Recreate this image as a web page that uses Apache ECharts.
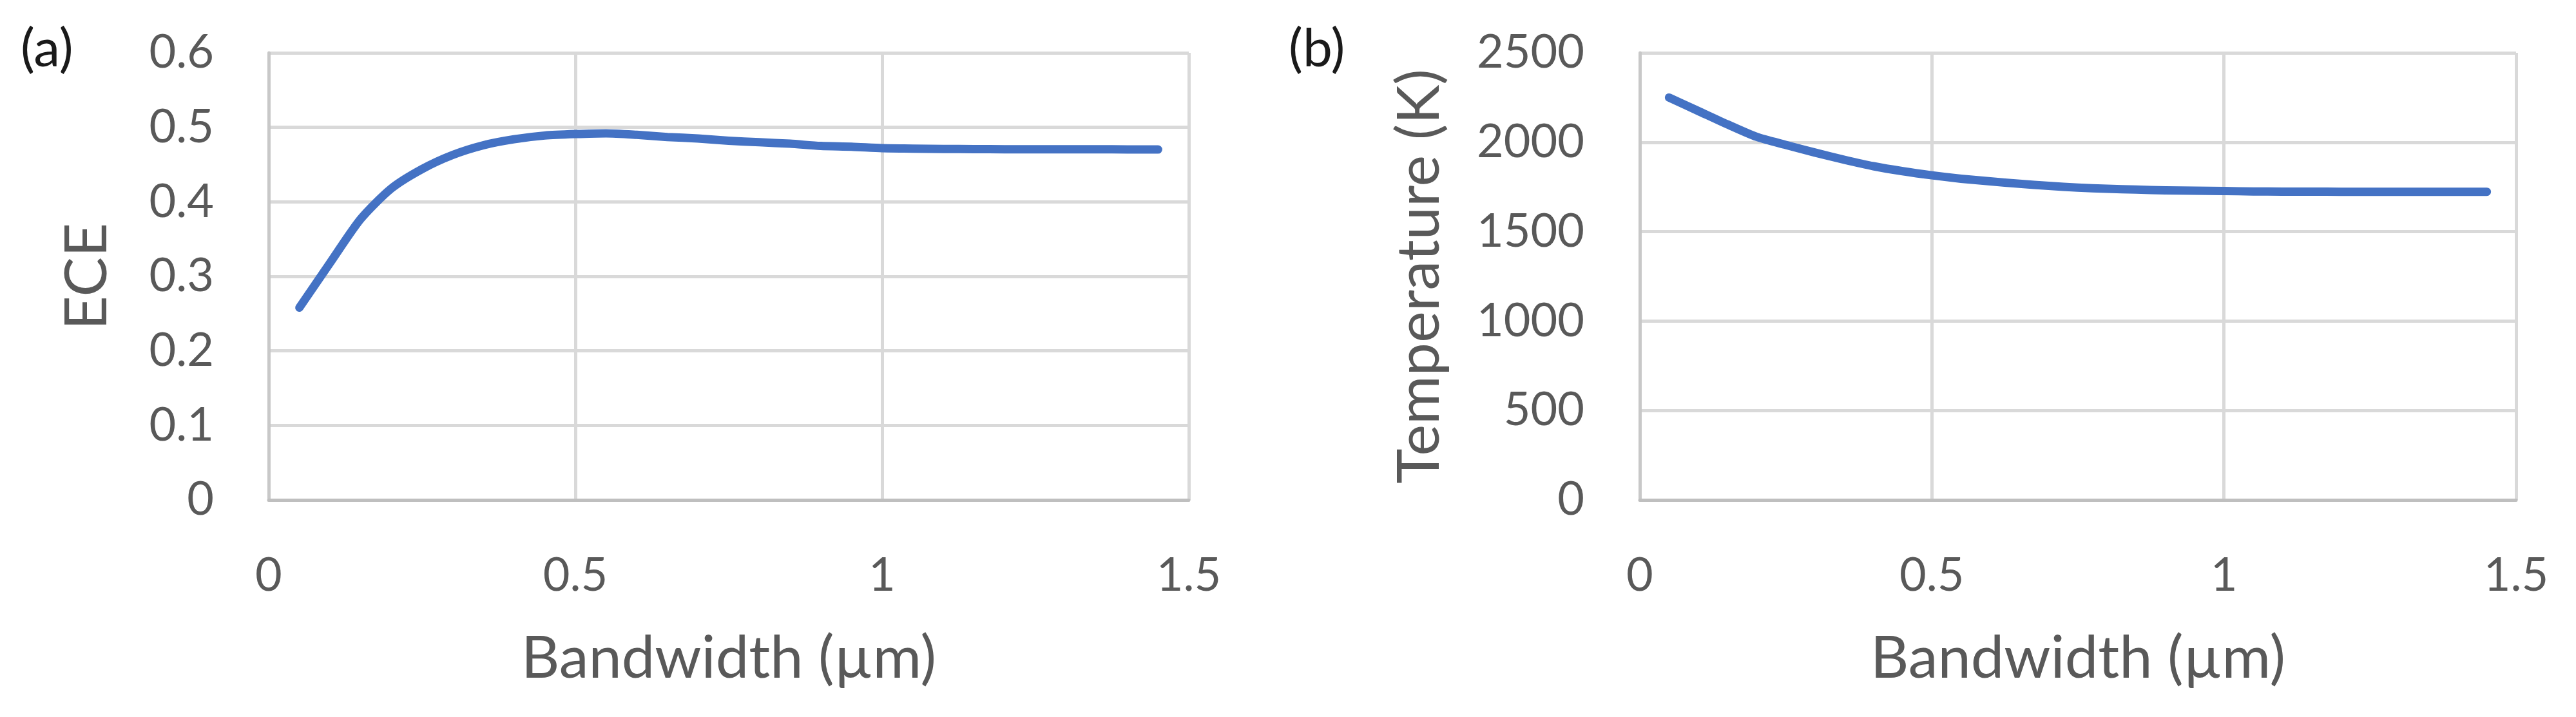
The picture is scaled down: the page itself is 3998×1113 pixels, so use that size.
<!DOCTYPE html>
<html>
<head>
<meta charset="utf-8">
<script src="https://cdn.jsdelivr.net/npm/echarts@6/dist/echarts.min.js"></script>
<style>
html,body{margin:0;padding:0;background:#fff;}
#chart{width:3998px;height:1113px;}
</style>
</head>
<body>
<div id="chart"></div>
<script>
// Bandwidth (µm)
const bandwidth = [0.05,0.10,0.15,0.20,0.25,0.30,0.35,0.40,0.45,0.50,0.55,0.60,0.65,0.70,0.75,0.80,0.85,0.90,0.95,1.00,1.05,1.10,1.15,1.20,1.25,1.30,1.35,1.40,1.45];
// (a) ECE
const ece = [0.258,0.318,0.377,0.418,0.444,0.463,0.476,0.484,0.489,0.491,0.492,0.490,0.487,0.485,0.482,0.480,0.478,0.475,0.474,0.472,0.4715,0.471,0.4708,0.4706,0.4705,0.4705,0.4705,0.4704,0.4703];
// (b) Temperature (K)
const temperature = [2250,2175,2100,2030,1985,1942,1902,1866,1838,1815,1796,1781,1768,1756,1746,1740,1735,1731,1729,1727,1725,1724,1724,1723,1723,1723,1723,1723,1723];

const panelLabels = ['(a)','(b)'];
const xName = 'Bandwidth (µm)';
const yNames = ['ECE','Temperature (K)'];

const FONT = 'Lato';
const TXT = '#595959';
const GRID = '#d9d9d9';
const LINE = '#4472C4';

function pairs(xs, ys){ return xs.map((x,i)=>[x, ys[i]]); }

function xAxis(gi){
  return {
    type:'value', gridIndex:gi, min:0, max:1.5, interval:0.5,
    name:xName, nameLocation:'middle', nameGap:200,
    nameTextStyle:{color:TXT, fontFamily:FONT, fontSize:92},
    axisLine:{show:true, lineStyle:{color:'#bfbfbf', width:5}},
    axisTick:{show:false},
    axisLabel:{color:TXT, fontFamily:FONT, fontSize:72, margin:82, formatter:v=>String(v)},
    splitLine:{show:true, lineStyle:{color:GRID, width:5}}
  };
}
function yAxis(gi, max, interval, gap, margin){
  return {
    type:'value', gridIndex:gi, min:0, max:max, interval:interval,
    name:yNames[gi], nameLocation:'middle', nameGap:gap, nameRotate:90,
    nameTextStyle:{color:TXT, fontFamily:FONT, fontSize:92},
    axisLine:{show:true, lineStyle:{color:'#c8c8c8', width:5}},
    axisTick:{show:false},
    axisLabel:{color:TXT, fontFamily:FONT, fontSize:72, margin:margin, formatter:v=>String(+v.toFixed(6))},
    splitLine:{show:true, lineStyle:{color:GRID, width:5}}
  };
}

const chart = echarts.init(document.getElementById('chart'), null, {renderer:'canvas'});
chart.setOption({
  backgroundColor:'#fff',
  animation:false,
  grid:[
    {left:417, right:2153, top:82, bottom:337},
    {left:2545, right:93, top:82, bottom:337}
  ],
  xAxis:[xAxis(0), xAxis(1)],
  yAxis:[yAxis(0, 0.6, 0.1, 236, 85), yAxis(1, 2500, 500, 296, 86)],
  graphic:[
    {type:'text', left:32, top:36, style:{text:panelLabels[0], fill:'#1a1a1a', font:'82px Lato'}},
    {type:'text', left:2000, top:36, style:{text:panelLabels[1], fill:'#1a1a1a', font:'82px Lato'}}
  ],
  series:[
    {type:'line', xAxisIndex:0, yAxisIndex:0, data:pairs(bandwidth, ece), smooth:0.25,
     symbol:'none', lineStyle:{color:LINE, width:13, cap:'round', join:'round'}},
    {type:'line', xAxisIndex:1, yAxisIndex:1, data:pairs(bandwidth, temperature), smooth:0.25,
     symbol:'none', lineStyle:{color:LINE, width:13, cap:'round', join:'round'}}
  ]
});
</script>
</body>
</html>
